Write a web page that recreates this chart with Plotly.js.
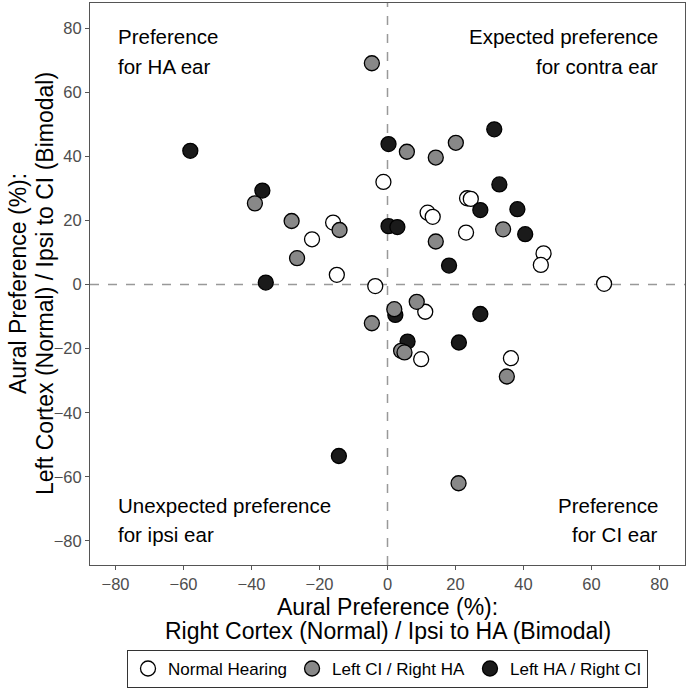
<!DOCTYPE html>
<html>
<head>
<meta charset="utf-8">
<script src="https://cdn.plot.ly/plotly-3.0.1.min.js"></script>
<style>
  html, body { margin: 0; padding: 0; background: #fff; }
  #plot { width: 689px; height: 690px; }
</style>
</head>
<body>
<div id="plot"></div>
<script>
// aural preference values
const normalX = [-1.2, -16.0, -22.2, -14.9, -3.6, 11.8, 13.3, 23.4, 24.5, 23.1, 45.9, 45.1, 63.7, 11.1, 9.9, 36.3];
const normalY = [32.0, 19.3, 14.1, 3.0, -0.5, 22.4, 21.1, 26.9, 26.7, 16.2, 9.7, 6.1, 0.2, -8.5, -23.3, -23.0];

const leftCiX = [-4.6, -39.0, -28.2, -14.1, -26.6, -4.6, 5.7, 14.2, 20.1, 34.0, 14.2, 2.0, 8.6, 4.0, 5.0, 35.1, 20.9];
const leftCiY = [69.0, 25.3, 19.8, 17.0, 8.2, -12.1, 41.4, 39.6, 44.2, 17.2, 13.4, -7.7, -5.4, -20.7, -21.2, -28.7, -62.0];

const leftHaX = [-58.0, -36.8, -35.8, -14.3, 0.3, 0.3, 2.9, 31.4, 32.9, 27.3, 38.2, 40.5, 18.1, 2.3, 27.3, 5.9, 21.0];
const leftHaY = [41.7, 29.3, 0.6, -53.5, 43.8, 18.2, 17.9, 48.4, 31.2, 23.2, 23.5, 15.7, 5.9, -9.5, -9.2, -17.8, -18.1];

const groupNames = ['Normal Hearing', 'Left CI / Right HA', 'Left HA / Right CI'];
const tickVals = [-80, -60, -40, -20, 0, 20, 40, 60, 80];
const xTitle = ['Aural Preference (%):', 'Right Cortex (Normal) / Ipsi to HA (Bimodal)'];
const yTitle = ['Aural Preference (%):', 'Left Cortex (Normal) / Ipsi to CI (Bimodal)'];

const font = 'Liberation Sans, Arial, sans-serif';

function pts(x, y, name, fill, rank) {
  return {
    x: x, y: y, name: name, type: 'scatter', mode: 'markers',
    legendrank: rank,
    marker: { size: 15, color: fill, line: { color: '#000', width: 1.3 } },
    hoverinfo: 'x+y'
  };
}

// white first, then black, then gray on top (as in the figure)
const traces = [
  pts(normalX, normalY, groupNames[0], '#ffffff', 1),
  pts(leftHaX, leftHaY, groupNames[2], '#1a1a1a', 3),
  pts(leftCiX, leftCiY, groupNames[1], '#888888', 2)
];

function quad(text, x, y, align) {
  return {
    text: text, x: x, y: y, xref: 'x', yref: 'y', showarrow: false,
    xanchor: align, yanchor: 'middle', align: align,
    font: { family: font, size: 20.5, color: '#000' }
  };
}

// axis titles as separate lines (tighter line spacing than <br>)
function titleLine(text, isX, shift) {
  const a = {
    text: text, showarrow: false, xref: 'paper', yref: 'paper',
    xanchor: 'center', yanchor: 'middle', borderpad: 0,
    font: { family: font, size: 23, color: '#000' }
  };
  if (isX) { a.x = 0.5; a.y = 0; a.yshift = shift; }
  else { a.x = 0; a.y = 0.5; a.xshift = shift; a.textangle = -90; }
  return a;
}

const annotations = [
  quad('Preference', -80, 77.3, 'left'),
  quad('for HA ear', -80, 68.0, 'left'),
  quad('Expected preference', 80, 77.3, 'right'),
  quad('for contra ear', 80, 68.0, 'right'),
  quad('Unexpected preference', -80, -68.8, 'left'),
  quad('for ipsi ear', -80, -77.9, 'left'),
  quad('Preference', 80, -68.8, 'right'),
  quad('for CI ear', 80, -77.9, 'right'),
  titleLine(xTitle[0], true, -42),
  titleLine(xTitle[1], true, -66),
  titleLine(yTitle[0], false, -72),
  titleLine(yTitle[1], false, -45)
];

const dashLine = { color: '#999999', width: 1.5, dash: 'dash' };

const layout = {
  width: 689, height: 690,
  margin: { l: 90, r: 4, t: 3, b: 125, autoexpand: false },
  paper_bgcolor: '#fff', plot_bgcolor: '#fff',
  font: { family: font, color: '#000' },
  showlegend: true,
  legend: {
    orientation: 'h', x: 0.5, xanchor: 'center',
    yref: 'container', y: 0.003, yanchor: 'bottom',
    bordercolor: '#333', borderwidth: 1, itemwidth: 30,
    font: { family: font, size: 17, color: '#000' }
  },
  xaxis: {
    range: [-87.5, 87.5], tickvals: tickVals, showgrid: false, zeroline: false,
    showline: true, mirror: true, linecolor: '#555', linewidth: 1,
    ticks: 'outside', ticklen: 4, tickcolor: '#555',
    tickfont: { family: font, size: 16.5, color: '#4d4d4d' }
  },
  yaxis: {
    range: [-87.5, 87.8], tickvals: tickVals, showgrid: false, zeroline: false,
    showline: true, mirror: true, linecolor: '#555', linewidth: 1,
    ticks: 'outside', ticklen: 4, tickcolor: '#555',
    tickfont: { family: font, size: 16.5, color: '#4d4d4d' }
  },
  shapes: [
    { type: 'line', xref: 'x', yref: 'paper', x0: 0, x1: 0, y0: 0, y1: 1, line: dashLine, layer: 'below' },
    { type: 'line', xref: 'paper', yref: 'y', x0: 0, x1: 1, y0: 0, y1: 0, line: dashLine, layer: 'below' }
  ],
  annotations: annotations
};

Plotly.newPlot('plot', traces, layout, { displayModeBar: false, staticPlot: true });
</script>
</body>
</html>
